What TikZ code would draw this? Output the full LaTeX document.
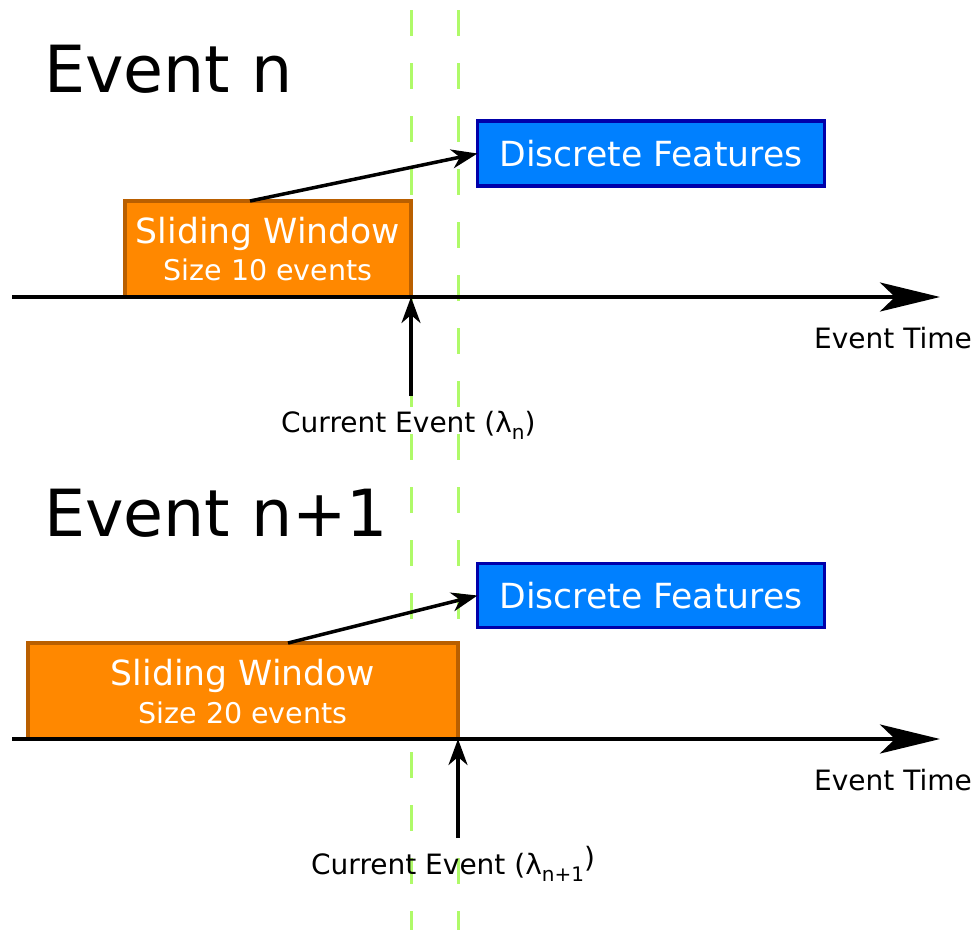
\documentclass[tikz,border=0pt]{standalone}
\usepackage{fontspec}
\setmainfont{DejaVu Sans}
\usetikzlibrary{arrows.meta}
\definecolor{orfill}{RGB}{255,136,0}
\definecolor{ordraw}{RGB}{185,95,0}
\definecolor{blfill}{RGB}{0,128,255}
\definecolor{bldraw}{RGB}{0,0,170}
\definecolor{guide}{RGB}{175,250,105}
\newcommand{\fsz}[1]{\fontsize{#1}{#1}\selectfont}
\begin{document}
\begin{tikzpicture}[x=1pt,y=-1pt,
  guideline/.style={draw=guide,line width=3pt,dash pattern=on 26pt off 27pt},
  featbox/.style={draw=bldraw,fill=blfill,line width=3.5pt,minimum width=347pt,inner sep=0pt,outer sep=0pt,text=white,font=\fsz{34.6}},
  winbox/.style={draw=ordraw,fill=orfill,line width=3.5pt,minimum height=96pt,inner sep=0pt,outer sep=0pt},
  wintitle/.style={anchor=base,text=white,font=\fsz{34.6},inner sep=0pt},
  winsize/.style={anchor=base,text=white,font=\fsz{28.5},inner sep=0pt},
  heading/.style={anchor=base west,font=\fsz{65},inner sep=0pt},
  small/.style={anchor=base west,font=\fsz{28},inner sep=0pt},
  axis/.style={line width=3.5pt,-{Stealth[length=60pt,width=29pt,inset=15pt]}},
  link/.style={line width=3.5pt,-{Stealth[length=26pt,width=19pt,inset=8pt]}}
]
\useasboundingbox (0,0) rectangle (980,930);
% guide lines
\coordinate (g1t) at (411,10); \coordinate (g1b) at (411,930);
\coordinate (g2t) at (458,10); \coordinate (g2b) at (458,930);
\draw[guideline] (g1t) -- (g1b);
\draw[guideline] (g2t) -- (g2b);

% ---------- Event n ----------
\node[heading] (h1) at (44,92) {Event n};
\node[featbox,minimum height=65pt] (df1) at (651,153.5) {Discrete Features};
\node[winbox,minimum width=286pt] (sw1) at (268,249) {};
\node[wintitle] (sw1t) at (268,243) {Sliding Window};
\node[winsize] (sw1s) at (268,280) {Size 10 events};
\coordinate (ts1) at (12,297); \coordinate (te1) at (940,297);
\draw[axis] (ts1) -- (te1);
\node[small] (et1) at (814,348) {Event Time};
\coordinate (a1s) at (250,201);
\draw[link] (a1s) -- (df1.west);
\coordinate (c1b) at (411,396);
\draw[link] (c1b) -- (sw1.south east);
\node[small] (ce1) at (281,432) {Current Event (λ\raisebox{-0.28em}{\fsz{20}n})};

% ---------- Event n+1 ----------
\node[heading] (h2) at (44,536) {Event n+1};
\node[featbox,minimum height=64pt] (df2) at (651,595.5) {Discrete Features};
\node[winbox,minimum width=430pt] (sw2) at (243,691) {};
\node[wintitle] (sw2t) at (243,685) {Sliding Window};
\node[winsize] (sw2s) at (243,723) {Size 20 events};
\coordinate (ts2) at (12,739); \coordinate (te2) at (940,739);
\draw[axis] (ts2) -- (te2);
\node[small] (et2) at (814,790) {Event Time};
\coordinate (a2s) at (288,643);
\draw[link] (a2s) -- (df2.west);
\coordinate (c2b) at (458,838);
\draw[link] (c2b) -- (sw2.south east);
\node[small] (ce2) at (311,874) {Current Event (λ\raisebox{-0.28em}{\fsz{20}n+1}\raisebox{0.25em}{)}};
\end{tikzpicture}
\end{document}
